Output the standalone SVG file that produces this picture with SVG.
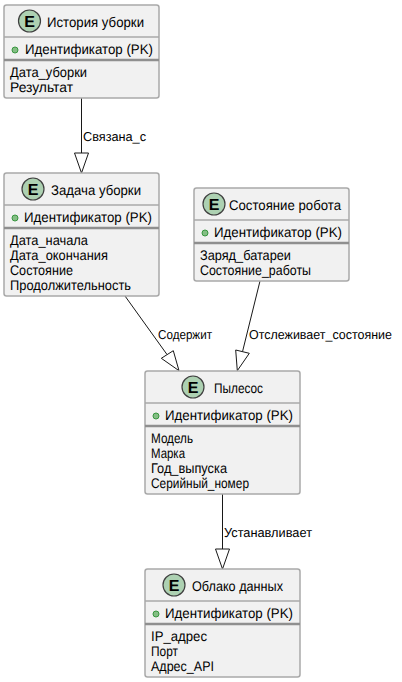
<svg xmlns="http://www.w3.org/2000/svg" width="402" height="682" viewBox="0 0 402 682">
<defs>
<style>
text{font-family:"Liberation Sans",Arial,sans-serif;font-size:14px;fill:#000;text-rendering:geometricPrecision}
.lab{font-size:13px}
.box{fill:#F1F1F1;stroke:#A9A9A9;stroke-width:1.5}
.sep{stroke:#A9A9A9;stroke-width:1.5;fill:none}
.sep2{stroke:#8f8f8f;stroke-width:2.5;fill:none}
.badge{fill:#ADD1B2;stroke:#3f3f3f;stroke-width:1.2}
.e{font-weight:bold;font-size:16px;text-anchor:middle}
.dot{fill:#84BE84;stroke:#38963f;stroke-width:1}
.line{stroke:#181818;stroke-width:1;fill:none}
.head{fill:#fff;stroke:#181818;stroke-width:1}
</style>
</defs>
<rect width="402" height="682" fill="#fff"/>
<g id="connectors">
<path class="line" d="M81.500 98V153"/><polygon class="head" points="74.500,153 88.500,153 81.500,173"/>
<path class="line" d="M125 296L167 354.500"/><polygon class="head" points="173.300,350.700 161.300,358.300 179,370.700"/>
<path class="line" d="M260 281L242.500 351.700"/><polygon class="head" points="235.700,350 249.300,353.300 237.300,370.700"/>
<path class="line" d="M222.500 494V549"/><polygon class="head" points="215.500,549 229.500,549 222.500,569"/>
<text class="lab" x="83" y="141" textLength="63" lengthAdjust="spacingAndGlyphs">Связана_с</text>
<text class="lab" x="158" y="339" textLength="54" lengthAdjust="spacingAndGlyphs">Содержит</text>
<text class="lab" x="249" y="339" textLength="143" lengthAdjust="spacingAndGlyphs">Отслеживает_состояние</text>
<text class="lab" x="224" y="537" textLength="88" lengthAdjust="spacingAndGlyphs">Устанавливает</text>
</g>
<g id="node-history">
<rect class="box" x="4" y="5" width="155" height="93" rx="2.500"/>
<path class="sep" d="M4 37H159"/><path class="sep2" d="M4 60H159"/>
<circle class="badge" cx="29.500" cy="21" r="11"/><text class="e" x="29.500" y="27">E</text>
<text x="47" y="27" textLength="97" lengthAdjust="spacingAndGlyphs">История уборки</text>
<circle class="dot" cx="15" cy="50" r="3"/><text x="25" y="54" textLength="128" lengthAdjust="spacingAndGlyphs">Идентификатор (PK)</text>
<text x="10" y="77" textLength="77" lengthAdjust="spacingAndGlyphs">Дата_уборки</text><text x="10" y="92" textLength="63" lengthAdjust="spacingAndGlyphs">Результат</text>
</g>
<g id="node-task">
<rect class="box" x="4" y="173" width="155" height="123" rx="2.500"/>
<path class="sep" d="M4 205H159"/><path class="sep2" d="M4 228H159"/>
<circle class="badge" cx="33" cy="189" r="11"/><text class="e" x="33" y="195">E</text>
<text x="51" y="195" textLength="90" lengthAdjust="spacingAndGlyphs">Задача уборки</text>
<circle class="dot" cx="15" cy="218" r="3"/><text x="24" y="222" textLength="128" lengthAdjust="spacingAndGlyphs">Идентификатор (PK)</text>
<text x="10" y="245" textLength="78" lengthAdjust="spacingAndGlyphs">Дата_начала</text><text x="10" y="260" textLength="98" lengthAdjust="spacingAndGlyphs">Дата_окончания</text><text x="10" y="275" textLength="63" lengthAdjust="spacingAndGlyphs">Состояние</text><text x="10" y="290" textLength="121" lengthAdjust="spacingAndGlyphs">Продолжительность</text>
</g>
<g id="node-state">
<rect class="box" x="194" y="188" width="155" height="93" rx="2.500"/>
<path class="sep" d="M194 220H349"/><path class="sep2" d="M194 243H349"/>
<circle class="badge" cx="214" cy="204" r="11"/><text class="e" x="214" y="210">E</text>
<text x="229" y="210" textLength="112" lengthAdjust="spacingAndGlyphs">Состояние робота</text>
<circle class="dot" cx="205" cy="233" r="3"/><text x="214" y="237" textLength="128" lengthAdjust="spacingAndGlyphs">Идентификатор (PK)</text>
<text x="200" y="260" textLength="91" lengthAdjust="spacingAndGlyphs">Заряд_батареи</text><text x="200" y="275" textLength="111" lengthAdjust="spacingAndGlyphs">Состояние_работы</text>
</g>
<g id="node-vacuum">
<rect class="box" x="145" y="371" width="155" height="123" rx="2.500"/>
<path class="sep" d="M145 403H300"/><path class="sep2" d="M145 426H300"/>
<circle class="badge" cx="193" cy="387" r="11"/><text class="e" x="193" y="393">E</text>
<text x="214" y="393" textLength="49" lengthAdjust="spacingAndGlyphs">Пылесос</text>
<circle class="dot" cx="156" cy="416" r="3"/><text x="165" y="420" textLength="128" lengthAdjust="spacingAndGlyphs">Идентификатор (PK)</text>
<text x="151" y="443" textLength="42" lengthAdjust="spacingAndGlyphs">Модель</text><text x="151" y="458" textLength="34" lengthAdjust="spacingAndGlyphs">Марка</text><text x="151" y="473" textLength="76" lengthAdjust="spacingAndGlyphs">Год_выпуска</text><text x="151" y="488" textLength="98" lengthAdjust="spacingAndGlyphs">Серийный_номер</text>
</g>
<g id="node-cloud">
<rect class="box" x="145" y="569" width="155" height="108" rx="2.500"/>
<path class="sep" d="M145 601H300"/><path class="sep2" d="M145 624H300"/>
<circle class="badge" cx="174" cy="585" r="11"/><text class="e" x="174" y="591">E</text>
<text x="192" y="591" textLength="91" lengthAdjust="spacingAndGlyphs">Облако данных</text>
<circle class="dot" cx="156" cy="614" r="3"/><text x="165" y="618" textLength="128" lengthAdjust="spacingAndGlyphs">Идентификатор (PK)</text>
<text x="151" y="641" textLength="56" lengthAdjust="spacingAndGlyphs">IP_адрес</text><text x="151" y="656" textLength="27" lengthAdjust="spacingAndGlyphs">Порт</text><text x="151" y="671" textLength="63" lengthAdjust="spacingAndGlyphs">Адрес_API</text>
</g>
</svg>
